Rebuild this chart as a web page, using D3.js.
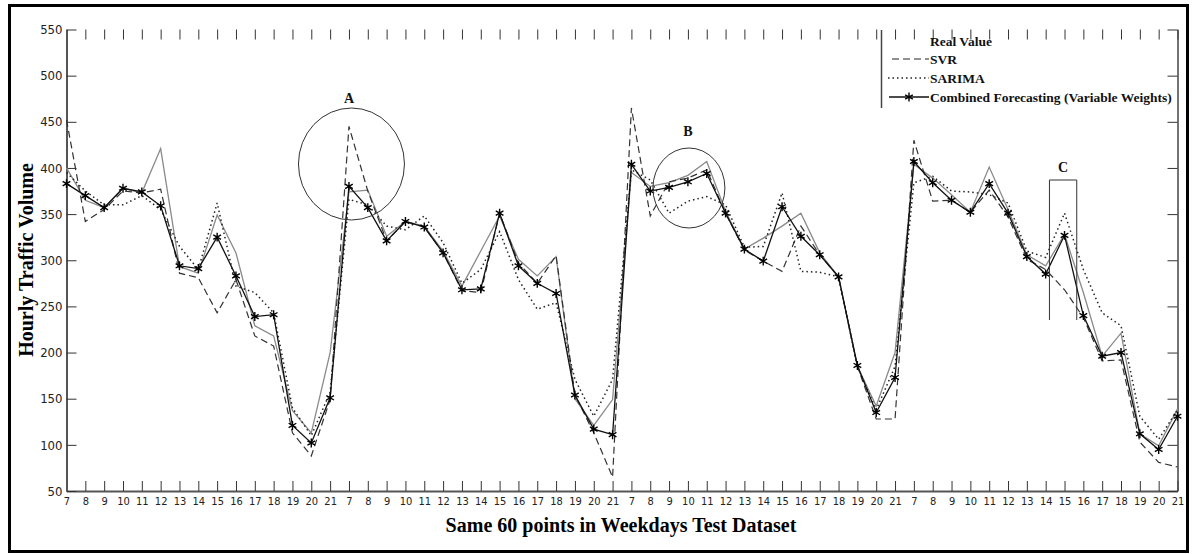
<!DOCTYPE html>
<html><head><meta charset="utf-8">
<script src="https://cdn.jsdelivr.net/npm/d3@7"></script>
<style>
html,body{margin:0;padding:0;background:#fff;}
svg{display:block;}
.tick text{font-family:"Liberation Sans Narrow","DejaVu Sans Condensed","Liberation Sans",sans-serif;font-stretch:condensed;fill:#222;}
</style></head>
<body>
<svg id="chart" width="1192" height="554"></svg>
<script>
// ---- data ----
const hours = [7,8,9,10,11,12,13,14,15,16,17,18,19,20,21];
const xTickLabels = [].concat(hours, hours, hours, hours);
const yTicks = [50,100,150,200,250,300,350,400,450,500,550];
const seriesNames = ["Real Value","SVR","SARIMA","Combined Forecasting (Variable Weights)"];
const realValue = [
  400,365,357,378,373,421,293,286,349,308,229,218,137,113,200,
  374,376,326,342,337,310,272,310,348,301,283,304,150,121,149,
  395,380,384,392,407,353,312,324,337,351,308,282,185,142,200,
  404,389,371,352,401,355,306,294,328,265,196,221,112,99,139];
const svr = [
  452,342,355,375,373,377,286,281,243,279,218,207,113,88,149,
  445,375,321,342,336,308,267,265,351,297,275,305,154,113,65,
  465,348,385,389,398,351,311,299,288,337,306,282,185,128,128,
  430,364,365,352,376,347,301,290,268,238,191,192,103,81,76];
const sarima = [
  395,375,360,360,370,355,315,290,362,272,265,243,140,110,157,
  366,360,337,333,348,319,275,290,331,279,247,254,171,131,171,
  398,387,351,364,369,360,314,315,373,288,287,282,185,138,185,
  384,391,375,374,371,362,310,303,351,290,243,229,131,106,138];
const combined = [
  383,370,357,378,374,359,294,291,325,283,239,241,121,102,151,
  380,357,321,342,336,308,268,269,351,294,275,264,154,117,111,
  404,375,379,385,394,351,312,299,358,326,306,282,186,135,173,
  407,384,365,352,383,351,304,285,327,240,196,200,112,95,131];
const annotationLabels = ["A","B","C"];

// ---- layout ----
const svg = d3.select("#chart");
const x = d3.scaleLinear().domain([0, 59]).range([66.5, 1177.5]);
const y = d3.scaleLinear().domain([50, 550]).range([491, 29.5]);
const idx = d3.range(60);

// outer frame
svg.append("rect").attr("x", 9.5).attr("y", 5.5).attr("width", 1178).attr("height", 546)
  .attr("fill", "none").attr("stroke", "#000").attr("stroke-width", 3);

// axes
const gx = svg.append("g").attr("transform", `translate(0,${y(50)})`)
  .call(d3.axisBottom(x).tickValues(idx).tickFormat(i => xTickLabels[i])
    .tickSizeInner(-10).tickSizeOuter(0).tickPadding(6));
gx.selectAll("text").attr("font-size", 11);
gx.select(".domain").attr("stroke", "#555").attr("stroke-width", 2);
gx.selectAll(".tick line").attr("stroke", "#333");

const gxt = svg.append("g").attr("transform", `translate(0,${y(550)})`)
  .call(d3.axisTop(x).tickValues(idx).tickFormat("").tickSizeInner(-10).tickSizeOuter(0));
gxt.select(".domain").remove();
gxt.selectAll(".tick line").attr("stroke", "#333");

const gy = svg.append("g").attr("transform", `translate(${x(0)},0)`)
  .call(d3.axisLeft(y).tickValues(yTicks).tickSizeInner(-10).tickSizeOuter(0).tickPadding(4));
gy.selectAll("text").attr("font-size", 13);
gy.select(".domain").attr("stroke", "#555").attr("stroke-width", 2);
gy.selectAll(".tick line").attr("stroke", "#333");

const gyr = svg.append("g").attr("transform", `translate(${x(59)},0)`)
  .call(d3.axisRight(y).tickValues(yTicks).tickFormat("").tickSizeInner(-10).tickSizeOuter(0));
gyr.select(".domain").attr("stroke", "#444").attr("stroke-width", 1.5);
gyr.selectAll(".tick line").attr("stroke", "#333");

// lines
const line = d3.line().x((d, i) => x(i)).y(d => y(d));
svg.append("path").datum(realValue).attr("d", line)
  .attr("fill", "none").attr("stroke", "#8a8a8a").attr("stroke-width", 1.3);
svg.append("path").datum(svr).attr("d", line)
  .attr("fill", "none").attr("stroke", "#333").attr("stroke-width", 1.2).attr("stroke-dasharray", "7,4");
svg.append("path").datum(sarima).attr("d", line)
  .attr("fill", "none").attr("stroke", "#222").attr("stroke-width", 1.5).attr("stroke-dasharray", "1.5,3");
svg.append("path").datum(combined).attr("d", line)
  .attr("fill", "none").attr("stroke", "#111").attr("stroke-width", 1.3);
const star = d3.symbol().type(d3.symbolAsterisk).size(55);
svg.append("g").selectAll("path").data(combined).join("path")
  .attr("transform", (d, i) => `translate(${x(i)},${y(d)})`)
  .attr("d", star).attr("fill", "none").attr("stroke", "#000").attr("stroke-width", 1.4);

// annotations
const annot = svg.append("g").attr("fill", "none").attr("stroke", "#333").attr("stroke-width", 1);
annot.append("ellipse").attr("cx", x(15) + 2.5).attr("cy", 164).attr("rx", 53).attr("ry", 56);
annot.append("ellipse").attr("cx", x(33) + 1).attr("cy", 188).attr("rx", 36).attr("ry", 40);
annot.append("path").attr("d", `M${x(52.2)},320V180H${x(53.65)}V320`);
const lab = svg.append("g").attr("font-family", "Liberation Serif, serif").attr("font-weight", "bold")
  .attr("font-size", 14).attr("text-anchor", "middle").attr("fill", "#111");
lab.append("text").attr("x", x(15)).attr("y", 103).text(annotationLabels[0]);
lab.append("text").attr("x", x(33)).attr("y", 136).text(annotationLabels[1]);
lab.append("text").attr("x", (x(52.2) + x(53.65)) / 2).attr("y", 172).text(annotationLabels[2]);

// legend
const lg = svg.append("g");
lg.append("line").attr("x1", 881.5).attr("x2", 881.5).attr("y1", 30).attr("y2", 108)
  .attr("stroke", "#444").attr("stroke-width", 1.5);
const lt = lg.append("g").attr("font-family", "Liberation Serif, serif").attr("font-weight", "bold")
  .attr("font-size", 13.5).attr("fill", "#111");
const legY = [46, 64, 83, 102];
seriesNames.forEach((n, k) => lt.append("text").attr("x", 930).attr("y", legY[k]).text(n));
lg.append("line").attr("x1", 892).attr("x2", 929).attr("y1", 59).attr("y2", 59)
  .attr("stroke", "#222").attr("stroke-width", 1.2).attr("stroke-dasharray", "7,4");
lg.append("line").attr("x1", 888).attr("x2", 929).attr("y1", 78).attr("y2", 78)
  .attr("stroke", "#222").attr("stroke-width", 1.3).attr("stroke-dasharray", "1.5,3");
lg.append("line").attr("x1", 889).attr("x2", 929).attr("y1", 97).attr("y2", 97)
  .attr("stroke", "#111").attr("stroke-width", 1.3);
lg.append("path").attr("transform", "translate(909,97)").attr("d", star)
  .attr("fill", "none").attr("stroke", "#000").attr("stroke-width", 1.4);

// axis titles
svg.append("text").attr("x", 621).attr("y", 532).attr("text-anchor", "middle")
  .attr("font-family", "Liberation Serif, serif").attr("font-weight", "bold").attr("font-size", 20)
  .text("Same 60 points in Weekdays Test Dataset");
svg.append("text").attr("transform", "translate(33,260) rotate(-90)").attr("text-anchor", "middle")
  .attr("font-family", "Liberation Serif, serif").attr("font-weight", "bold").attr("font-size", 20)
  .text("Hourly Traffic Volume");
</script>
</body></html>
